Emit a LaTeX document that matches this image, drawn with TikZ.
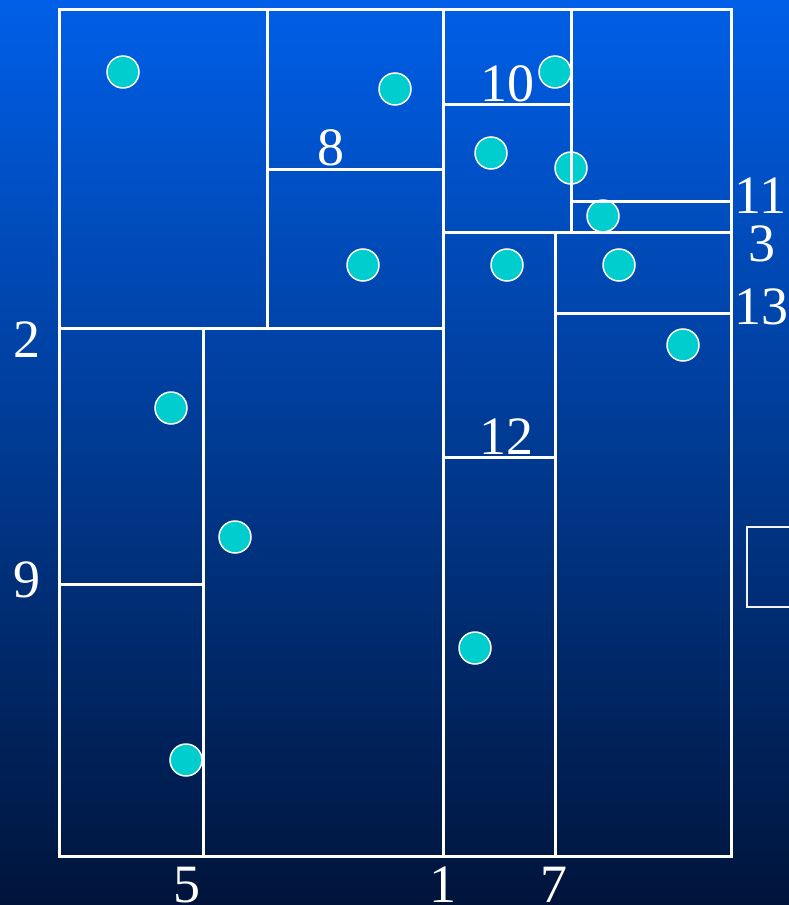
\documentclass[tikz,border=0pt]{standalone}
\usepackage{fontspec}
\setmainfont{Liberation Serif}
\definecolor{bgtop}{RGB}{0,95,232}
\definecolor{bgbot}{RGB}{0,20,58}
\definecolor{pt}{RGB}{0,205,205}
\begin{document}
\begin{tikzpicture}[x=1pt,y=-1pt,
  cut/.style={white,line width=3pt},
  dot/.style={circle,fill=pt,draw=white,line width=1.5pt,minimum size=32pt,inner sep=0pt},
  lab/.style={text=white,inner sep=0pt,font=\fontsize{54}{60}\selectfont}]
\shade[top color=bgtop,bottom color=bgbot] (0,0) rectangle (789,905);
\useasboundingbox (0,0) rectangle (789,905);
% points
\node[dot] (p1) at (123,72) {};
\node[dot] (p2) at (395,89) {};
\node[dot] (p3) at (363,265) {};
\node[dot] (p4) at (555,72) {};
\node[dot] (p5) at (491,153) {};
\node[dot] (p6) at (571,168) {};
\node[dot] (p7) at (603,216) {};
\node[dot] (p8) at (507,265) {};
\node[dot] (p9) at (619,265) {};
\node[dot] (p10) at (683,345) {};
\node[dot] (p11) at (171,408) {};
\node[dot] (p12) at (235,537) {};
\node[dot] (p13) at (475,648) {};
\node[dot] (p14) at (186,760) {};
% partition
\draw[cut] (59,9) rectangle (731,856);
\draw[cut] (267,9) -- (267,328);
\draw[cut] (59,328) -- (443,328);
\draw[cut] (203,328) -- (203,856);
\draw[cut] (59,584) -- (203,584);
\draw[cut] (443,9) -- (443,856);
\draw[cut] (267,169) -- (443,169);
\draw[cut] (571,9) -- (571,232);
\draw[cut] (443,104) -- (571,104);
\draw[cut] (443,232) -- (731,232);
\draw[cut] (571,201) -- (731,201);
\draw[cut] (555,232) -- (555,856);
\draw[cut] (555,313) -- (731,313);
\draw[cut] (443,457) -- (555,457);
\draw[white!90!gray,line width=2pt] (747,527) rectangle (800,607);
% labels
\node[lab] (l10) at (507,84) {10};
\node[lab] (l8) at (331,148) {8};
\node[lab] (l11) at (760,196) {11};
\node[lab] (l3) at (762,244) {3};
\node[lab] (l13) at (761,307) {13};
\node[lab] (l2) at (27,340) {2};
\node[lab] (l9) at (27,580) {9};
\node[lab] (l12) at (506,437) {12};
\node[lab] (l5) at (187,885) {5};
\node[lab] (l1) at (443,885) {1};
\node[lab] (l7) at (554,885) {7};
\end{tikzpicture}
\end{document}
